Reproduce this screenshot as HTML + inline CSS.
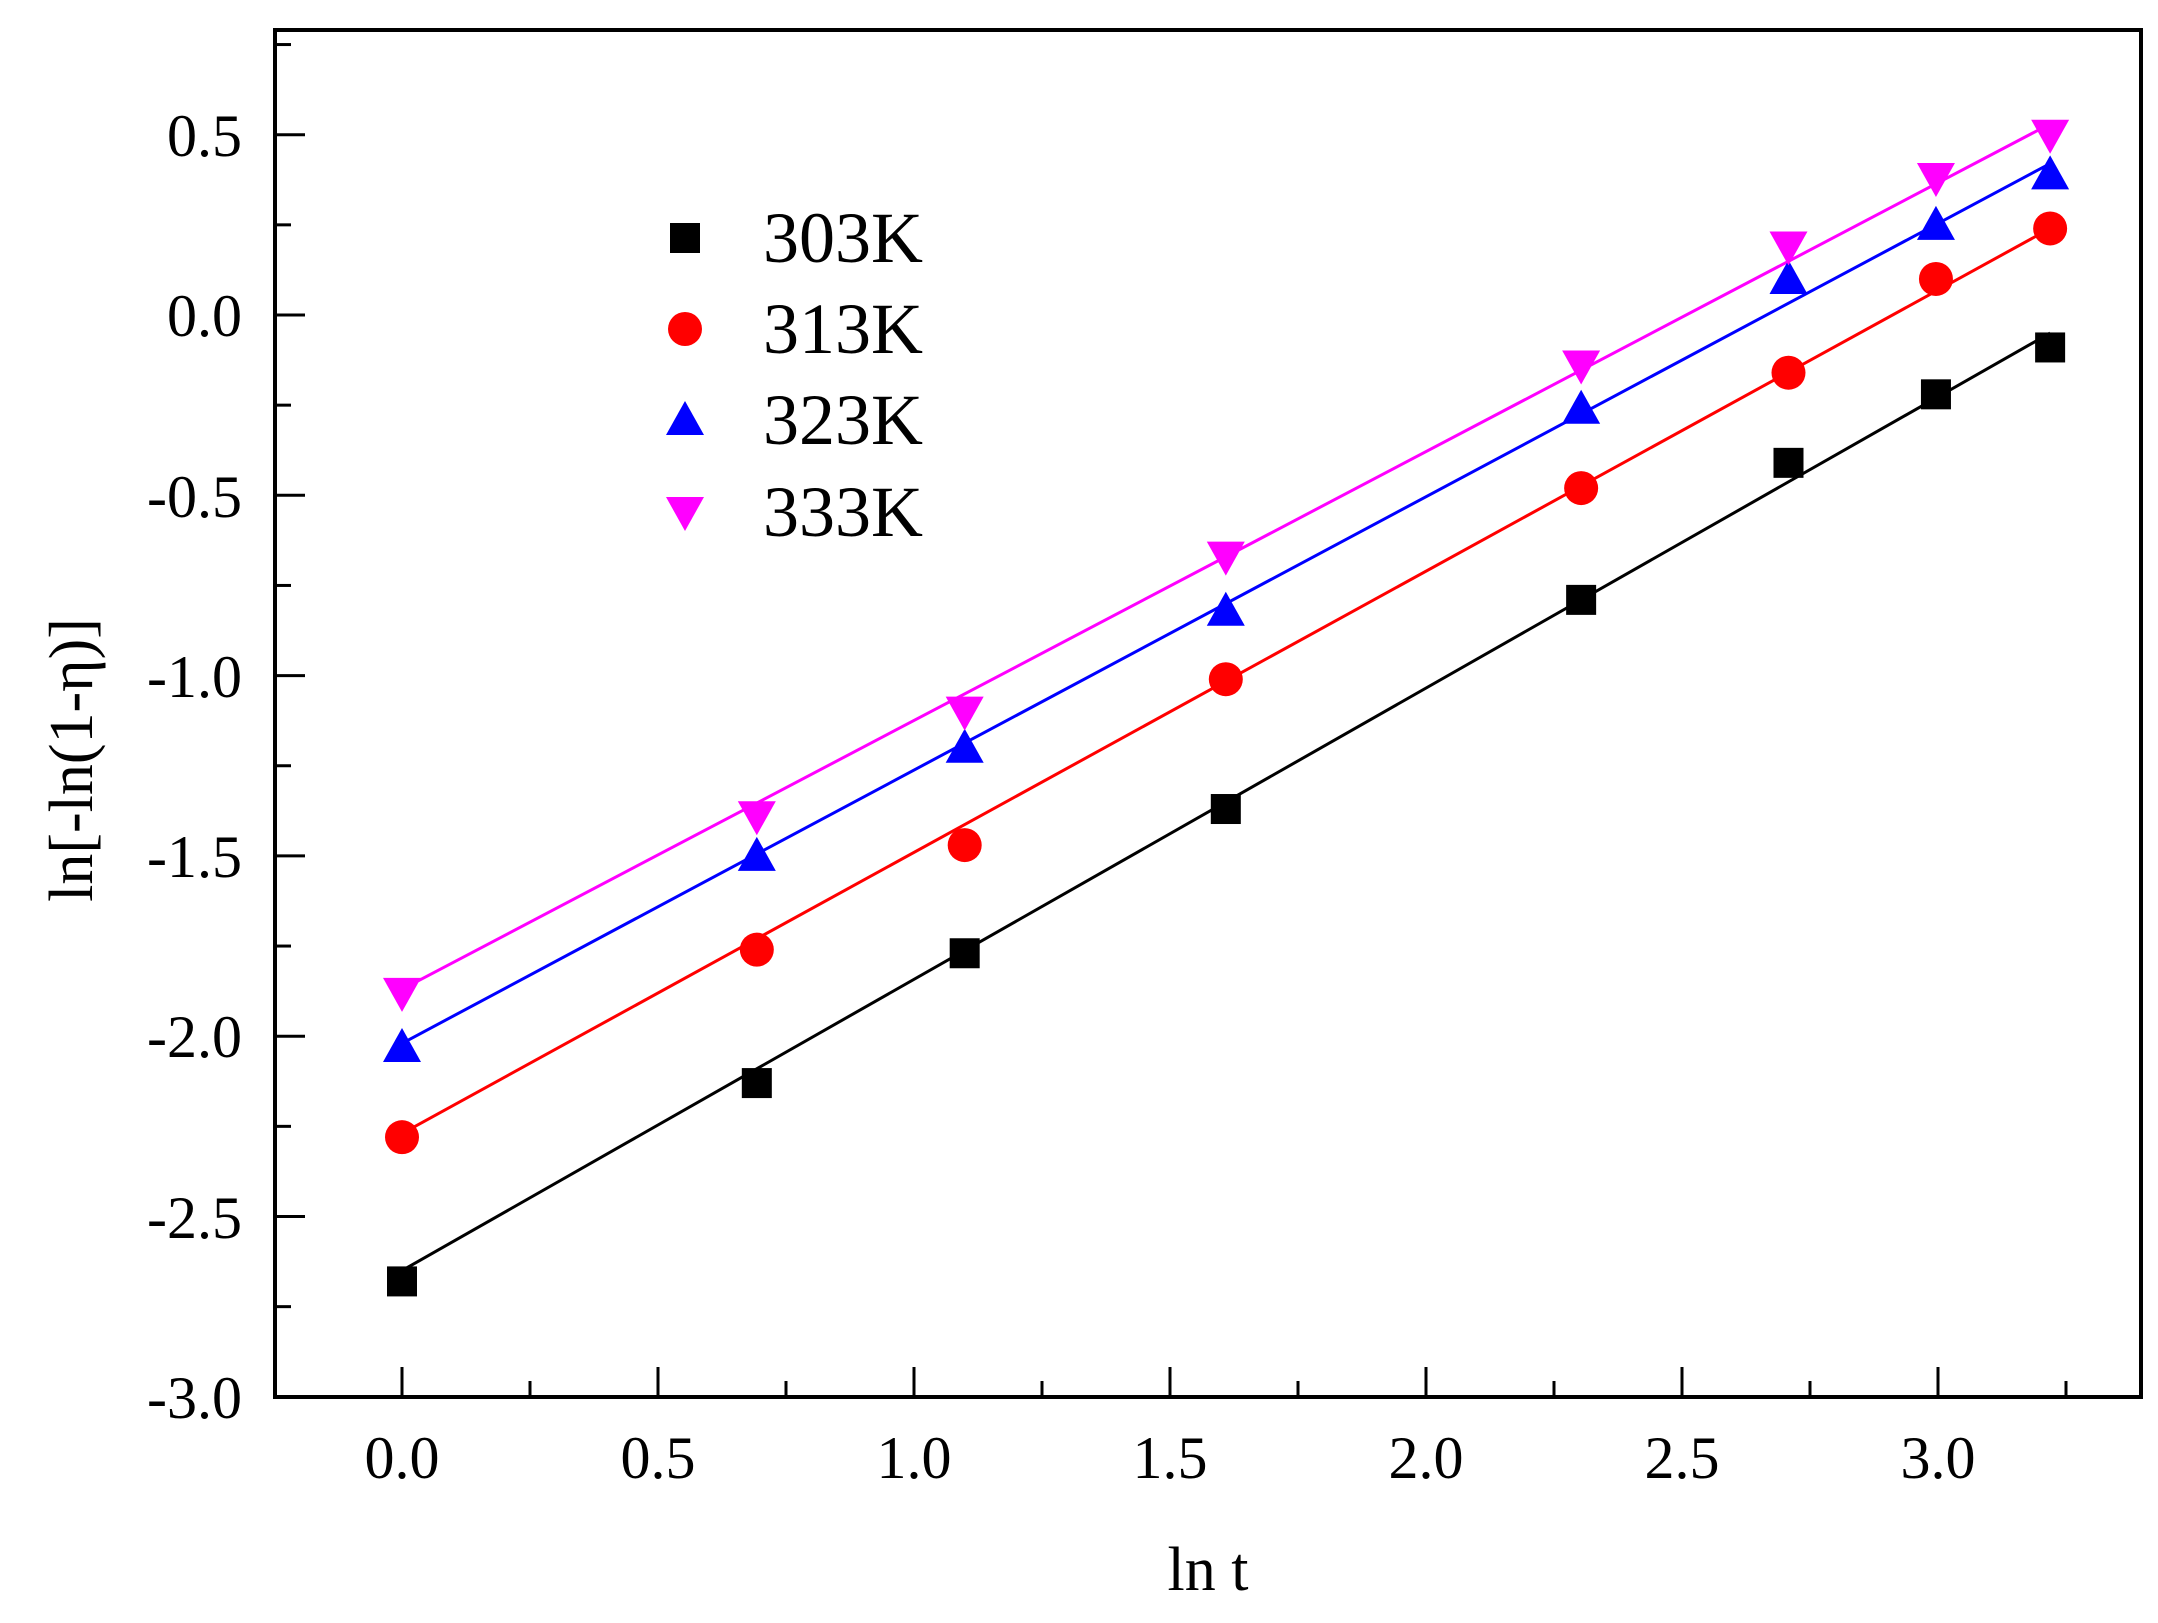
<!DOCTYPE html>
<html><head><meta charset="utf-8"><style>
html,body{margin:0;padding:0;background:#fff;}
svg{display:block;}
text{font-family:"Liberation Serif",serif;fill:#000;}
</style></head><body>
<svg id="s" width="2158" height="1623" viewBox="0 0 2158 1623" xmlns="http://www.w3.org/2000/svg">
<rect x="0" y="0" width="2158" height="1623" fill="#fff"/>
<g id="ticks" stroke="#000" stroke-width="3"></g>
<rect x="275" y="30" width="1866" height="1367" fill="none" stroke="#000" stroke-width="4"/>
<g font-size="60" text-anchor="end">
<text x="242" y="156">0.5</text>
<text x="242" y="336">0.0</text>
<text x="242" y="517">-0.5</text>
<text x="242" y="697">-1.0</text>
<text x="242" y="877">-1.5</text>
<text x="242" y="1057">-2.0</text>
<text x="242" y="1238">-2.5</text>
<text x="242" y="1418">-3.0</text>
</g>
<g font-size="60" text-anchor="middle">
<text x="402" y="1478">0.0</text>
<text x="658" y="1478">0.5</text>
<text x="914" y="1478">1.0</text>
<text x="1170" y="1478">1.5</text>
<text x="1426" y="1478">2.0</text>
<text x="1682" y="1478">2.5</text>
<text x="1938" y="1478">3.0</text>
</g>
<text x="1208" y="1590" font-size="62" text-anchor="middle">ln t</text>
<text transform="translate(92,760) rotate(-90)" font-size="62" text-anchor="middle">ln[-ln(1-η)]</text>
<g id="data"></g>
<g font-size="72">
<text x="763" y="262">303K</text>
<text x="763" y="353">313K</text>
<text x="763" y="444">323K</text>
<text x="763" y="536">333K</text>
</g>
<g id="leg"></g>
</svg>
<script>
var NS="http://www.w3.org/2000/svg";
function X(v){return 402+512*v;} function Y(v){return 315-360.6*v;}
function el(p,n,a){var e=document.createElementNS(NS,n);for(var k in a)e.setAttribute(k,a[k]);p.appendChild(e);return e;}
var tk=document.getElementById('ticks');
for(var i=0;i<=15;i++){var v=-3+i*0.25;var y=Y(v);if(y<35)continue;var L=(i%2==0)?30:16;el(tk,'line',{x1:275,y1:y,x2:275+L,y2:y});}
for(var i=0;i<=13;i++){var v=i*0.25;var x=X(v);if(x>2135)continue;var L=(i%2==0)?30:16;el(tk,'line',{x1:x,y1:1397,x2:x,y2:1397-L});}
var xs=[0,0.693,1.099,1.609,2.303,2.708,2.996,3.219];
var S=[
{c:'#000',m:'sq',y:[-2.68,-2.13,-1.77,-1.37,-0.79,-0.41,-0.22,-0.09],l:[-2.65,-0.05]},
{c:'#f00',m:'ci',y:[-2.28,-1.76,-1.47,-1.01,-0.48,-0.16,0.10,0.24],l:[-2.27,0.24]},
{c:'#00f',m:'up',y:[-2.03,-1.50,-1.20,-0.82,-0.26,0.10,0.25,0.39],l:[-2.02,0.42]},
{c:'#f0f',m:'dn',y:[-1.88,-1.39,-1.10,-0.67,-0.14,0.19,0.38,0.50],l:[-1.87,0.53]}];
var g=document.getElementById('data');
function mk(p,m,c,x,y){
 if(m=='sq')el(p,'rect',{x:x-15,y:y-15,width:30,height:30,fill:c});
 else if(m=='ci')el(p,'circle',{cx:x,cy:y,r:17,fill:c});
 else if(m=='up')el(p,'polygon',{points:(x-19)+','+(y+15)+' '+(x+19)+','+(y+15)+' '+x+','+(y-19),fill:c});
 else el(p,'polygon',{points:(x-19)+','+(y-15)+' '+(x+19)+','+(y-15)+' '+x+','+(y+19),fill:c});}
S.forEach(function(s){el(g,'line',{x1:X(0),y1:Y(s.l[0]),x2:X(3.219),y2:Y(s.l[1]),stroke:s.c,'stroke-width':3});});
S.forEach(function(s){xs.forEach(function(x,i){mk(g,s.m,s.c,X(x),Y(s.y[i]));});});
var lg=document.getElementById('leg');var ly=[238,329,420,512];
S.forEach(function(s,i){mk(lg,s.m,s.c,685,ly[i]);});
</script>
</body></html>
